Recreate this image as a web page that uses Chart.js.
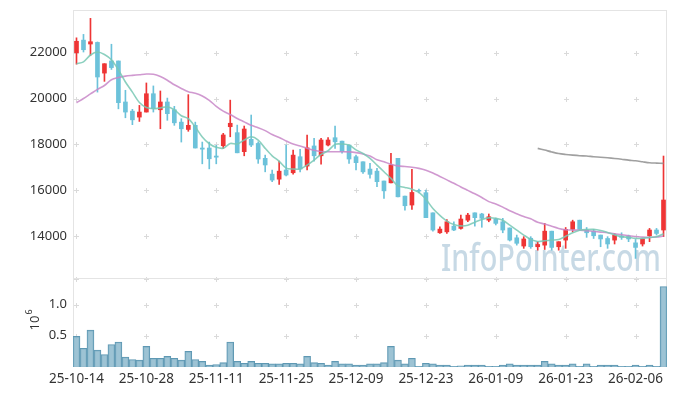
<!DOCTYPE html>
<html>
<head>
<meta charset="utf-8">
<script src="https://cdn.jsdelivr.net/npm/chart.js@4.4.1/dist/chart.umd.min.js"></script>
<style>
  html, body { margin: 0; padding: 0; background: #fff; }
  #wrap { width: 677px; height: 396px; position: relative; }
</style>
</head>
<body>
<div id="wrap"><canvas id="grafico"></canvas></div>
<script>
// Fechas (días hábiles)
const dates = [
  '25-10-14','25-10-15','25-10-16','25-10-17','25-10-20','25-10-21','25-10-22','25-10-23','25-10-24','25-10-27',
  '25-10-28','25-10-29','25-10-30','25-10-31','25-11-03','25-11-04','25-11-05','25-11-06','25-11-07','25-11-10',
  '25-11-11','25-11-12','25-11-13','25-11-14','25-11-17','25-11-18','25-11-19','25-11-20','25-11-21','25-11-24',
  '25-11-25','25-11-26','25-11-27','25-11-28','25-12-01','25-12-02','25-12-03','25-12-04','25-12-05','25-12-08',
  '25-12-09','25-12-10','25-12-11','25-12-12','25-12-15','25-12-16','25-12-17','25-12-18','25-12-19','25-12-22',
  '25-12-23','25-12-24','25-12-26','25-12-29','25-12-30','26-01-02','26-01-05','26-01-06','26-01-07','26-01-08',
  '26-01-09','26-01-12','26-01-13','26-01-14','26-01-15','26-01-16','26-01-19','26-01-20','26-01-21','26-01-22',
  '26-01-23','26-01-26','26-01-27','26-01-28','26-01-29','26-01-30','26-02-02','26-02-03','26-02-04','26-02-05',
  '26-02-06','26-02-09','26-02-10','26-02-11','26-02-12'
];

const openP = [
  22000,22550,22380,22450,21110,21640,21640,19850,19450,19190,
  19410,20210,19510,19850,19510,18970,18650,18830,17840,17840,
  17490,17940,18770,18510,17680,18220,18040,17390,16700,16480,
  16880,16760,17460,17050,17930,17500,17970,18290,18140,17970,
  17460,17240,16920,16830,16400,16320,17390,15740,15350,15990,
  15890,15010,14140,14180,14430,14330,14690,15010,14960,14690,
  14740,14620,14350,13920,13560,13900,13530,13600,14210,13530,
  13820,14290,14690,14260,14210,14040,13890,13820,14000,14000,
  13700,13650,14010,14260,14260
];
const highP = [
  22650,22800,23500,22470,21520,22370,21640,20360,19530,19700,
  20680,20550,20330,20020,19660,19120,20170,18970,18100,18100,
  17960,18480,19930,18840,18800,19280,18110,17530,16880,17270,
  17970,17750,17780,18410,18260,18260,18290,18800,18140,17970,
  17530,17240,17170,16950,16400,17610,17390,15740,16910,16050,
  16000,15010,14400,14720,14620,14910,14990,15010,14990,14960,
  14780,14770,14350,14040,13970,13970,13750,14550,14210,13750,
  14370,14690,14690,14370,14290,14040,13970,14110,14140,14040,
  13850,13870,14330,14330,17490
];
const lowP = [
  21500,22030,21880,20280,20750,21270,19550,19160,18860,19000,
  19410,19410,18680,19050,18830,18100,18570,17840,17150,16930,
  17150,17820,18330,17630,17500,17900,17170,16800,16370,16250,
  16620,16700,16800,16880,17270,17140,17930,17820,17610,17170,
  16880,16730,16520,16150,15640,16320,15710,15130,15160,15880,
  14800,14210,14110,14110,14230,14300,14620,14430,14380,14620,
  14480,14140,13780,13600,13460,13460,13380,13410,13380,13380,
  13460,14180,14290,13940,13890,13530,13460,13650,13850,13750,
  13020,13560,13750,14040,13970
];
const closeP = [
  22500,22130,22480,20940,21520,21350,19820,19410,19070,19410,
  20210,19560,19850,19340,18940,18680,18830,17840,17790,17370,
  17440,18410,18920,17630,18670,17970,17360,17100,16440,16830,
  16660,17530,16920,17850,17500,18190,18190,18110,17680,17360,
  17200,16800,16690,16370,15970,17100,15710,15320,15900,15960,
  14800,14260,14300,14620,14260,14740,14910,14800,14770,14840,
  14550,14260,13820,13680,13870,13530,13630,14210,13500,13750,
  14290,14620,14290,14140,14010,13870,13650,14040,13940,13870,
  13500,13870,14260,14110,15570
];

// Volumen (acciones)
const volume = [
  490000,300000,590000,270000,200000,360000,400000,160000,120000,110000,
  330000,140000,140000,170000,140000,110000,250000,120000,90000,30000,
  40000,70000,400000,90000,60000,90000,60000,60000,50000,50000,
  60000,60000,50000,170000,70000,60000,30000,90000,50000,50000,
  30000,30000,50000,50000,70000,330000,110000,50000,140000,10000,
  60000,50000,30000,30000,10000,20000,30000,30000,30000,10000,
  10000,30000,50000,30000,30000,30000,30000,90000,50000,30000,
  30000,50000,10000,50000,10000,30000,30000,30000,10000,10000,
  30000,10000,30000,10000,1290000
];

// Medias móviles
const ma5 = [
  21520,21600,21900,22030,21920,21690,21250,20720,20280,19830,
  19610,19560,19590,19640,19510,19250,19120,18755,18320,18026,
  17870,17830,18040,18013,18188,18332,18188,17825,17500,17260,
  16960,16921,16921,17096,17314,17563,17720,18000,18013,17969,
  17760,17600,17388,17096,16803,16512,16190,16120,16040,15900,
  15600,15200,14900,14650,14500,14440,14470,14600,14720,14790,
  14770,14690,14476,14257,14039,13851,13760,13790,13821,13850,
  13990,14140,14250,14280,14287,14240,14150,14050,13970,13938,
  13895,13895,13938,13965,14100
];
const ma20 = [
  19817,20000,20200,20400,20570,20821,20920,20980,21013,21040,
  21070,21060,20960,20800,20600,20440,20300,20230,20110,19920,
  19660,19450,19300,19130,18980,18830,18725,18600,18430,18300,
  18150,18010,17930,17830,17740,17690,17677,17677,17677,17670,
  17640,17580,17490,17330,17240,17130,17060,17030,17000,16950,
  16870,16750,16600,16450,16300,16140,15990,15840,15680,15500,
  15400,15260,15100,14970,14850,14750,14600,14520,14420,14330,
  14270,14257,14257,14235,14200,14170,14140,14100,14050,14008,
  13980,13950,13938,13955,13996
];
const ma60 = Array(66).fill(null).concat([
  17825,17750,17670,17600,17560,17530,17505,17490,17460,17440,
  17415,17385,17350,17310,17284,17240,17196,17180,17170
]);

const priceTicks = [14000, 16000, 18000, 20000, 22000];
const volTicks = [500000, 1000000];
const labelEvery = 10;

// Rangos de ejes: el panel de precio ocupa la parte superior, el de volumen la inferior
const PRECIO_MIN = 8280, PRECIO_MAX = 23865, PRECIO_PISO = 12150;
const VOL_MAX = 5720000;

const ROJO = '#ee3535';
const AZUL = '#6cc2da';
const colores = openP.map((o, i) => closeP[i] >= o ? ROJO : AZUL);

Chart.defaults.font.family = '"Noto Sans", sans-serif';
Chart.defaults.font.size = 13;
Chart.defaults.color = '#333';

// Decoración: marca de agua, cruces de rejilla, bordes y etiquetas de ejes
const decor = {
  id: 'decor',
  beforeDatasetsDraw(chart) {
    const { ctx, chartArea: a, scales } = chart;
    const x = scales.x, y = scales.y, yv = scales.yv;
    const piso = Math.round(y.getPixelForValue(PRECIO_PISO)) + 0.5;
    ctx.save();
    ctx.font = '500 38px "Noto Sans"';
    ctx.fillStyle = 'rgba(185,208,222,0.8)';
    ctx.textAlign = 'right';
    ctx.textBaseline = 'alphabetic';
    ctx.fillText('InfoPointer.com', a.right - 6, piso - 8, 220);

    ctx.strokeStyle = '#dadada';
    ctx.lineWidth = 1;
    const xs = [];
    for (let i = 0; i < dates.length; i += labelEvery) xs.push(x.getPixelForValue(i));
    const ys = priceTicks.map(v => y.getPixelForValue(v))
      .concat(volTicks.map(v => yv.getPixelForValue(v)), [piso]);
    ctx.beginPath();
    xs.forEach(px => ys.forEach(py => {
      const cx = Math.round(px) + 0.5, cy = Math.round(py) + 0.5;
      ctx.moveTo(cx - 2.5, cy); ctx.lineTo(cx + 2.5, cy);
      ctx.moveTo(cx, cy - 2.5); ctx.lineTo(cx, cy + 2.5);
    }));
    ctx.stroke();

    ctx.strokeStyle = '#e4e4e4';
    ctx.strokeRect(Math.round(a.left) + 0.5, Math.round(a.top) + 0.5,
      Math.round(a.width) - 1, Math.round(a.height) - 1);
    ctx.beginPath();
    ctx.moveTo(a.left, piso);
    ctx.lineTo(a.right, piso);
    ctx.stroke();
    ctx.restore();
  },
  afterDraw(chart) {
    const { ctx, chartArea: a, scales } = chart;
    ctx.save();
    ctx.fillStyle = '#333';
    ctx.font = '13px "Noto Sans"';
    ctx.textAlign = 'right';
    ctx.textBaseline = 'middle';
    priceTicks.forEach(v => ctx.fillText(String(v), a.left - 6, scales.y.getPixelForValue(v)));
    volTicks.forEach(v => ctx.fillText((v / 1e6).toFixed(1), a.left - 6, scales.yv.getPixelForValue(v)));

    ctx.translate(35, 323);
    ctx.rotate(-Math.PI / 2);
    ctx.textAlign = 'center';
    ctx.fillText('10', 0, 0);
    ctx.font = '9px "Noto Sans"';
    ctx.fillText('6', 11, -6);
    ctx.restore();
  }
};

const lineaMA = (data, color) => ({
  type: 'line',
  data: data,
  yAxisID: 'y',
  borderColor: color,
  borderWidth: 1.6,
  pointRadius: 0,
  tension: 0.3,
  order: 0
});

new Chart(document.getElementById('grafico'), {
  type: 'bar',
  data: {
    labels: dates,
    datasets: [
      lineaMA(ma5, 'rgba(120,200,180,0.85)'),
      lineaMA(ma20, 'rgba(200,135,200,0.85)'),
      lineaMA(ma60, 'rgba(150,150,150,0.9)'),
      {
        // mechas
        data: lowP.map((l, i) => [l, highP[i]]),
        yAxisID: 'y',
        backgroundColor: colores,
        barThickness: 1,
        grouped: false,
        order: 2
      },
      {
        // cuerpos
        data: openP.map((o, i) => [o, closeP[i]]),
        yAxisID: 'y',
        backgroundColor: colores,
        barThickness: 4,
        grouped: false,
        order: 1
      },
      {
        data: volume,
        yAxisID: 'yv',
        backgroundColor: 'rgba(140,184,205,0.85)',
        borderColor: '#5e98b3',
        borderWidth: 1,
        barPercentage: 1,
        categoryPercentage: 1,
        grouped: false,
        order: 3
      }
    ]
  },
  options: {
    responsive: true,
    maintainAspectRatio: false,
    animation: false,
    layout: { padding: { top: 10, right: 10, left: 0, bottom: 0 } },
    plugins: { legend: { display: false }, tooltip: { enabled: false } },
    scales: {
      x: {
        grid: { display: false, drawTicks: false },
        border: { display: false },
        ticks: {
          autoSkip: false,
          maxRotation: 0,
          padding: 4,
          font: { size: 13.5 },
          callback(val, idx) { return idx % labelEvery === 0 ? this.getLabelForValue(val) : ''; }
        },
        afterFit(s) { s.height = 29; }
      },
      y: {
        position: 'left',
        min: PRECIO_MIN,
        max: PRECIO_MAX,
        grid: { display: false, drawTicks: false },
        border: { display: false },
        ticks: { display: false },
        afterFit(s) { s.width = 73; }
      },
      yv: {
        display: false,
        min: 0,
        max: VOL_MAX
      }
    }
  },
  plugins: [decor]
});
</script>
</body>
</html>
